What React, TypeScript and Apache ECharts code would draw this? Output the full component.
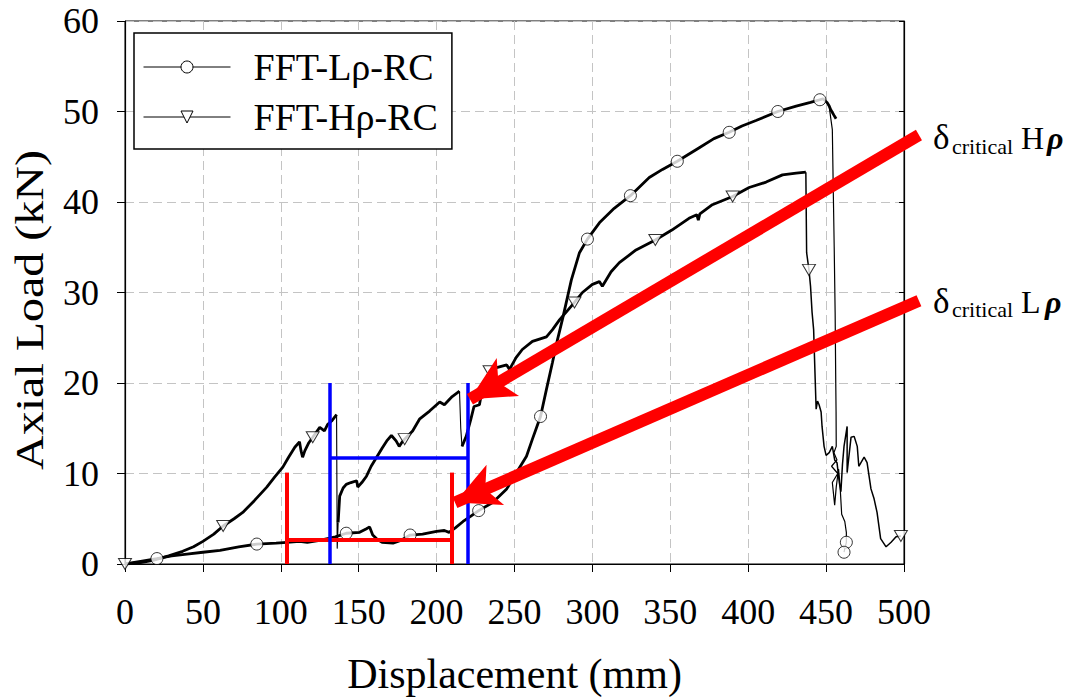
import React, { useEffect, useRef } from "react";
import * as echarts from "echarts";

const SERIF = "'Liberation Serif', 'Times New Roman', serif";

// ---- Data (displacement mm, axial load kN) ----
const lowRhoMain: [number, number][] = [
  [0, 0], [10, 0.3], [20.5, 0.6], [30, 0.9], [39.7, 1.1], [50, 1.3], [61, 1.5], [73, 1.9], [84.6, 2.2],
  [97, 2.3], [104, 2.4], [112, 2.5], [117, 2.4], [125, 2.6], [130, 2.8], [135, 3.0], [142, 3.4],
  [150.6, 3.5], [155, 3.9], [157, 4.1], [159, 3.2], [162, 2.7], [165, 2.4], [172, 2.3], [177, 2.6],
  [183, 3.2], [191, 3.3], [200, 3.6], [205, 3.7], [208, 3.5], [212, 4.0], [217, 4.7], [222, 5.3],
  [227, 5.9], [236, 6.8], [245, 8.3], [252, 10.3], [257.7, 11.9], [261.5, 13.8], [264, 15],
  [266.7, 16.3], [270.5, 19.3], [274.4, 22.3], [277.6, 24.8], [281, 27.2], [286.5, 31.4],
  [291.7, 34.4], [296.8, 35.9], [304.5, 37.7], [314, 39.3], [324.4, 40.7], [336.5, 42.7],
  [345, 43.6], [354.5, 44.5], [368.6, 46], [378, 47], [387.8, 47.7], [396, 48.4], [405, 49],
  [419, 50], [430.8, 50.6], [440, 51], [446, 51.3], [448, 51.4], [450.6, 51.0], [452, 50.6],
  [453, 50.2], [455, 49.6], [456.4, 49.2],
];
const lowRhoTail: [number, number][] = [
  [452, 50.5], [454, 48], [454.5, 42.4], [455.2, 35], [455.8, 27.8], [456.2, 20], [456.4, 16.8],
  [456.5, 13], [455, 12.3], [457, 11.5], [453.5, 10.8], [457.5, 10], [454, 9], [455.5, 6.5],
  [456.5, 8.5], [458, 10.5], [459, 8.5], [460, 5.5], [462, 4.7], [463, 3.5], [463, 2.4], [461.5, 1.3],
];
const lowRhoMarks: [number, number][] = [
  [20.5, 0.6], [84.6, 2.2], [142, 3.4], [183, 3.2], [227, 5.9], [266.7, 16.3], [296.8, 35.9],
  [324.4, 40.7], [354.5, 44.5], [387.8, 47.7], [419, 50], [446, 51.3], [463, 2.4], [461.5, 1.3],
];

const highRhoRise1: [number, number][] = [
  [0, 0], [10, 0.15], [18, 0.4], [28, 0.9], [37, 1.4], [44, 1.9], [50, 2.5], [57, 3.3], [63, 4.2],
  [70, 5.0], [75.6, 5.7], [83, 7.0], [91, 8.5], [96, 9.6], [101.3, 10.7], [105, 11.8], [109, 12.9],
  [112, 13.5], [113, 12.5], [114, 11.8], [115.4, 12.5], [118, 13.4], [120.5, 14], [125, 15.1],
  [128, 14.7], [130, 15.4], [132.6, 15.8], [135.8, 16.5],
];
const highRhoDrop1: [number, number][] = [[135.8, 16.5], [136.2, 1.7], [136.8, 4.6]];
const highRhoRise2: [number, number][] = [
  [136.8, 4.6], [137.8, 7.5], [140, 8.4], [142, 8.8], [145, 9.0], [148.7, 9.2], [149.4, 8.5],
  [152, 9.0], [155, 9.7], [158, 10.8], [161.5, 11.8], [165, 12.8], [168, 13.6], [171, 14.2],
  [174, 13.6], [176, 13.0], [178, 13.5], [179.5, 13.8], [184.6, 14.7], [189, 16], [195.5, 16.9],
  [202, 17.9], [205, 17.6], [210, 18.5], [214.7, 19.1],
];
const highRhoDrop2: [number, number][] = [[214.7, 19.1], [215.5, 15], [216.3, 13]];
const highRhoRise3: [number, number][] = [
  [216.3, 13], [219, 14.1], [222, 16], [224, 17.4], [227.5, 17.6], [229.5, 19.5], [234, 21.3],
  [238.5, 21.7], [245, 22], [246.8, 21.5], [251, 22.8], [255, 23.7], [261.5, 24.6], [270.5, 25.1],
  [274.4, 25.9], [279, 27], [284, 28], [288.5, 28.9], [293.6, 30], [300, 30.9], [304.5, 31.2],
  [306.4, 30.7], [312, 32.3], [317.3, 33.3], [328, 34.7], [340.4, 35.8], [351, 36.9], [362, 38.2],
  [367, 38.6], [368, 38.0], [369, 38.7], [377, 39.7], [390, 40.6], [400.6, 41.6], [411.5, 42.2],
  [422, 43], [430.8, 43.2], [437, 43.3],
];
const highRhoTail: [number, number][] = [
  [437, 43.3], [437.5, 34.4], [439, 32.5], [440, 30.7], [441, 27.8], [442, 25.9], [443, 20.4],
  [443.6, 17.1], [444.5, 18], [445.5, 17.6], [446.8, 16.8], [447.4, 15.2], [448.7, 13], [450, 12],
  [452, 12.3], [454, 13], [455.5, 11.5], [457, 11.2], [458.5, 9], [459.5, 8], [460.5, 11],
  [461.5, 13], [463.5, 15.2], [463.5, 10.1], [466, 14], [468, 14.1], [470, 13], [471, 10.8],
  [474.4, 11.8], [476.3, 11.2], [478.8, 8.3], [480.8, 7.2], [482.7, 5.7], [485, 2.8], [488.5, 1.9],
  [491.7, 2.4], [494.9, 3.0], [498, 3.1],
];
const highRhoMarks: [number, number][] = [
  [0, 0], [63, 4.2], [120.5, 14], [179.5, 13.8], [234, 21.3], [288.5, 28.9], [340.4, 35.8],
  [390, 40.6], [439, 32.5], [498, 3.1],
];

// Annotation segments (data coordinates)
const redBracket: [number, number][][] = [
  [[103.8, 10.1], [103.8, 0]],
  [[209.7, 10.1], [209.7, 0]],
  [[103.8, 2.7], [209.7, 2.7]],
];
const blueBracket: [number, number][][] = [
  [[131.1, 20.0], [131.1, 0]],
  [[219.7, 20.0], [219.7, 0]],
  [[131.1, 11.7], [219.7, 11.7]],
];
const criticalArrows: [number, number][][] = [
  [[509.6, 47.4], [221.4, 18.2]],
  [[509.6, 29.1], [211.8, 6.8]],
];

const seriesNames = ["FFT-L\u03c1-RC", "FFT-H\u03c1-RC"];
const circleSymbol = "circle";
const triangleSymbol = "path://M0,0L12,0L6,10Z";

export default function App() {
  const ref = useRef<HTMLDivElement>(null);

  useEffect(() => {
    if (!ref.current) return;
    const chart = echarts.init(ref.current, null, { renderer: "svg" });

    const markerStyle = { color: "#fff", borderColor: "#000", borderWidth: 1 };
    const curve = (data: [number, number][], width: number, name?: string, symbol?: string) => ({
      type: "line",
      name,
      data,
      showSymbol: false,
      symbol: symbol || "none",
      symbolSize: 12,
      symbolKeepAspect: true,
      lineStyle: { color: "#000", width },
      itemStyle: markerStyle,
      silent: true,
      z: 3,
    });
    const segs = (data: [number, number][][], color: string, width: number, extra: any = {}) => ({
      type: "lines",
      coordinateSystem: "cartesian2d",
      clip: false,
      silent: true,
      data: data.map((c) => ({ coords: c })),
      lineStyle: { color, width, opacity: 1, curveness: 0 },
      z: 6,
      ...extra,
    });
    const label = (text: string, x: number, y: number, fontSize: number, emph = false) => ({
      type: "text",
      x,
      y,
      style: {
        text,
        fontSize,
        fontFamily: SERIF,
        fontWeight: emph ? "bold" : "normal",
        fontStyle: emph ? "italic" : "normal",
        fill: "#000",
        align: "left",
        verticalAlign: "middle",
      },
    });

    const option: any = {
      animation: false,
      backgroundColor: "#fff",
      textStyle: { fontFamily: SERIF, color: "#000" },
      grid: {
        left: 125, right: 172, top: 21, bottom: 135,
        show: true, borderColor: "#000", borderWidth: 1, backgroundColor: "transparent",
      },
      legend: {
        data: seriesNames,
        orient: "vertical",
        left: 134,
        top: 33,
        padding: [15, 14, 13, 9],
        itemGap: 12,
        itemWidth: 87,
        itemHeight: 15,
        borderColor: "#000",
        borderWidth: 1.5,
        backgroundColor: "#fff",
        lineStyle: { width: 1 },
        itemStyle: { color: "#fff", borderColor: "#000", borderWidth: 1 },
        textStyle: { fontSize: 38, color: "#000", fontFamily: SERIF, padding: [0, 0, 0, 18] },
        selectedMode: false,
      },
      xAxis: [
        {
          type: "value", min: 0, max: 500, interval: 50,
          name: "Displacement (mm)", nameLocation: "middle", nameGap: 89,
          nameTextStyle: { fontSize: 42, color: "#000", fontFamily: SERIF },
          axisLine: { show: true, lineStyle: { color: "#000", width: 1.2 } },
          axisTick: { show: true, inside: false, length: 8, lineStyle: { color: "#000", width: 1 } },
          axisLabel: { fontSize: 36, color: "#000", margin: 30, fontFamily: SERIF },
          splitLine: { show: true, lineStyle: { color: "#c4c4c4", type: [9, 5], width: 1 } },
        },
      ],
      yAxis: [
        {
          type: "value", min: 0, max: 60, interval: 10,
          axisLine: { show: true, lineStyle: { color: "#000", width: 1.2 } },
          axisTick: { show: true, inside: false, length: 8, lineStyle: { color: "#000", width: 1 } },
          axisLabel: { fontSize: 36, color: "#000", margin: 26, fontFamily: SERIF },
          splitLine: { show: true, lineStyle: { color: "#c4c4c4", type: [9, 5], width: 1 } },
        },
        {
          type: "value", min: 0, max: 60, interval: 10, position: "right",
          axisLine: { show: true, lineStyle: { color: "#000", width: 1.2 } },
          axisTick: { show: true, inside: true, length: 5, lineStyle: { color: "#000", width: 1 } },
          axisLabel: { show: false },
          splitLine: { show: false },
        },
      ],
      graphic: [
        {
          type: "text", x: 30, y: 310, rotation: Math.PI / 2, scaleX: 1.2,
          style: { text: "Axial Load (kN)", fontSize: 40, fontFamily: SERIF, fill: "#000", align: "center", verticalAlign: "middle" },
        },
        label("\u03b4", 933, 137, 35),
        label("critical", 952, 146.6, 22),
        label("H", 1021, 138, 32),
        label("\u03c1", 1047, 138, 32, true),
        label("\u03b4", 933, 301, 35),
        label("critical", 952, 309.6, 22),
        label("L", 1021, 302, 32),
        label("\u03c1", 1045, 302, 32, true),
      ],
      series: [
        curve(lowRhoMain, 2.8, seriesNames[0], circleSymbol),
        curve(lowRhoTail, 1.2),
        curve(highRhoRise1, 2.8, seriesNames[1], triangleSymbol),
        curve(highRhoDrop1, 1.1),
        curve(highRhoRise2, 2.8),
        curve(highRhoDrop2, 1.1),
        curve(highRhoRise3, 2.8),
        curve(highRhoTail, 1.5),
        {
          type: "scatter", data: lowRhoMarks, symbol: circleSymbol, symbolSize: 12,
          itemStyle: markerStyle, silent: true, z: 4,
        },
        {
          type: "scatter", data: highRhoMarks, symbol: triangleSymbol, symbolSize: [13, 11],
          itemStyle: markerStyle, silent: true, z: 4,
        },
        segs(redBracket, "#ff0000", 4),
        segs(blueBracket, "#0000ff", 3.5),
        segs(criticalArrows, "#ff0000", 12, { symbol: ["none", "arrow"], symbolSize: [1, [33, 44]], z: 8 }),
      ],
    };

    chart.setOption(option);
    return () => chart.dispose();
  }, []);

  return (
    <div
      ref={ref}
      style={{ position: "fixed", left: 0, top: 0, width: 1076, height: 700 }}
    />
  );
}
